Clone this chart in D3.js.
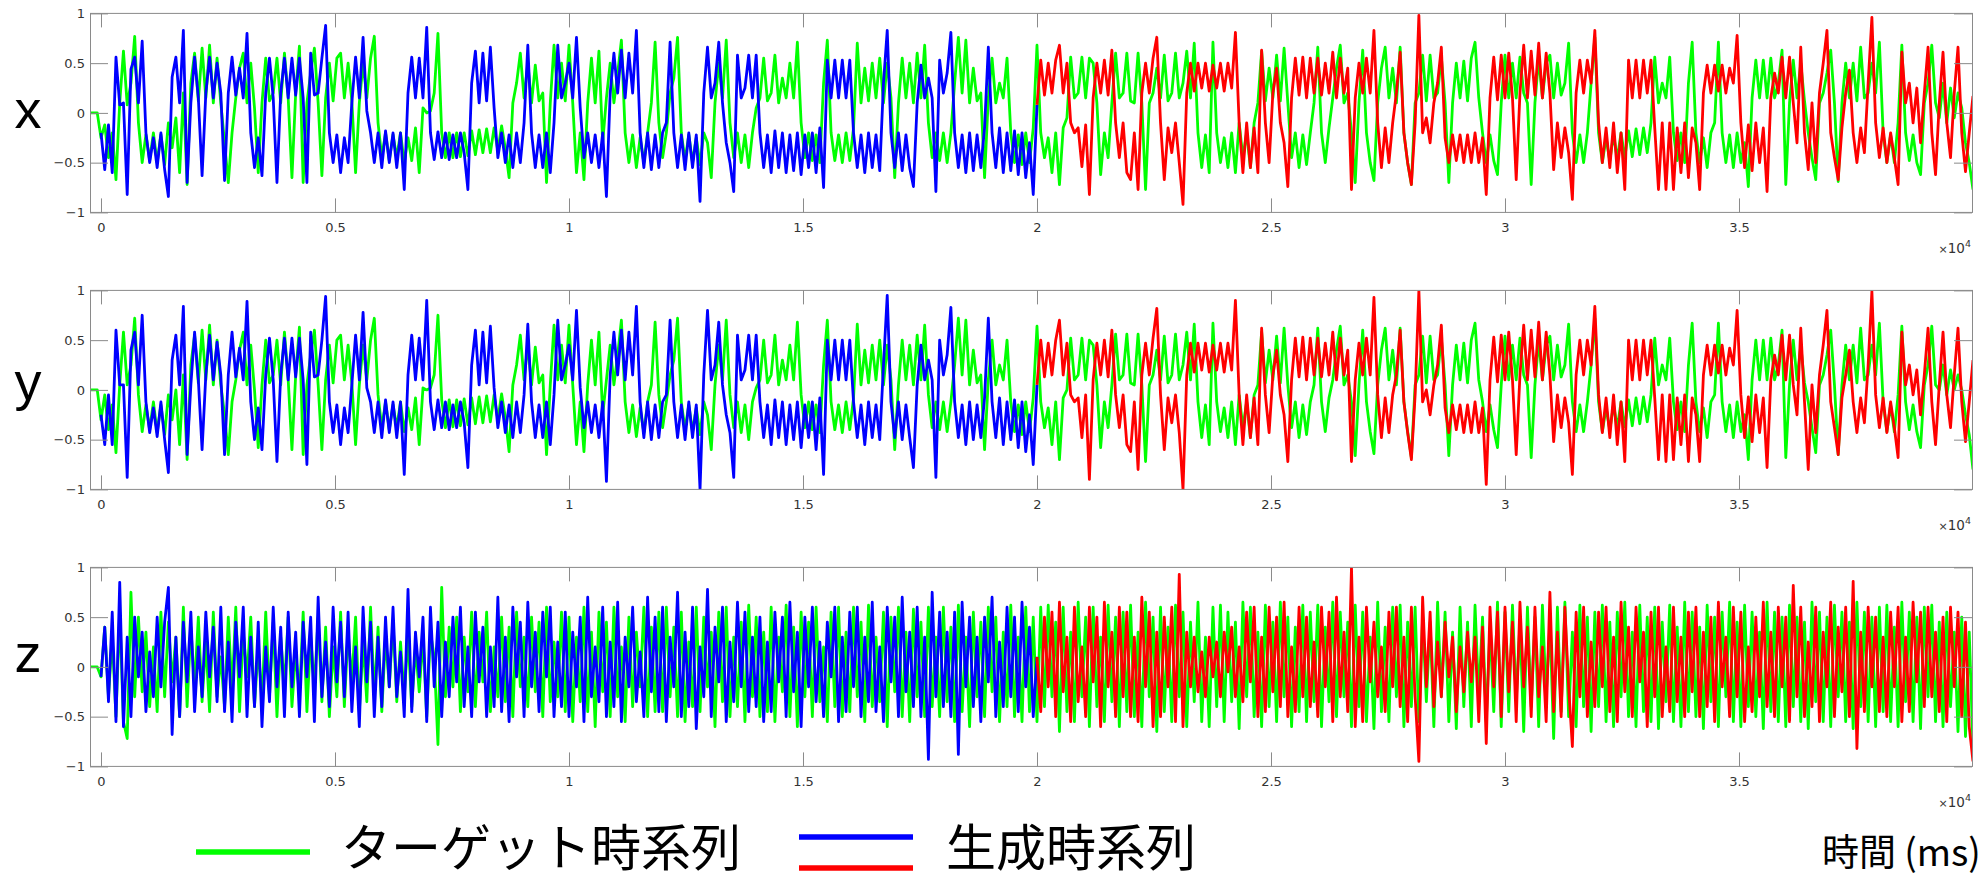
<!DOCTYPE html>
<html><head><meta charset="utf-8">
<script src="https://cdn.jsdelivr.net/npm/d3@7"></script>
<style>html,body{margin:0;padding:0;background:#fff}svg{display:block}</style>
</head><body>
<svg id="chart" width="1984" height="879"></svg>
<script>
// ---------- data ----------
const stepMs = 80;            // sample spacing of every series
const targetStart = -240;     // first time of the target series (ms)
const genStart = 0;           // first time of the generated series (ms)
const switchTime = 20000;     // generated series: blue before, red after
const panelNames = ["x", "y", "z"];
const xTickValues = [0, 5000, 10000, 15000, 20000, 25000, 30000, 35000];
const xTickLabels = ["0", "0.5", "1", "1.5", "2", "2.5", "3", "3.5"];
const yTickValues = [-1, -0.5, 0, 0.5, 1];
const yTickLabels = ["\u22121", "\u22120.5", "0", "0.5", "1"];
const legendTarget = "ターゲット時系列";
const legendGen = "生成時系列";
const xAxisTitle = "時間 (ms)";

const targetX = [0,0,0,
-.25,-.12,-.45,-.2,-.67,.1,.62,.08,.3,.77,-.1,-.5,-.22,-.48,-.2,-.5,-.22,-.52,-.1,-.35,-.05,-.6,.2,-.72,.3,
.6,.12,.65,.15,.68,.1,.55,.1,-.3,-.7,-.2,.15,.45,.6,.1,.5,.05,-.6,.1,.55,.12,.2,.55,.1,.6,
.15,-.65,.2,.67,-.7,.1,.4,.65,.1,-.63,.15,.5,.12,.55,.6,.15,.5,.12,-.6,.1,.5,.15,.55,.77,-.1,
-.45,-.2,-.48,-.22,-.45,-.2,-.5,-.25,-.48,-.15,-.6,.05,0,.02,.2,.8,-.2,-.45,-.2,-.45,-.2,-.44,-.2,-.43,-.18,
-.42,-.17,-.4,-.16,-.4,-.15,-.38,-.13,-.36,-.65,.1,.3,.6,.15,.5,.1,.48,.12,.2,-.7,.1,.68,.15,.5,.12,
.68,.1,-.6,-.2,-.67,.1,.55,.1,.62,-.3,.15,.5,.1,.4,.73,-.2,-.5,-.22,-.55,-.25,-.5,-.2,.1,.71,-.1,
-.45,-.2,.2,.35,.76,-.2,-.48,-.22,-.5,-.25,-.52,-.2,-.3,-.65,.1,.5,.15,.73,-.1,-.45,-.2,-.5,-.22,-.55,-.2,
.05,.15,.55,.12,.2,.58,.1,.35,.15,.5,.15,.71,-.1,-.45,-.2,-.48,-.22,-.5,.3,.73,-.2,-.48,-.22,-.5,-.2,
-.48,-.15,.7,.1,.45,.12,.5,.15,.55,.1,.5,.15,-.65,.1,.55,.15,.5,.1,.6,.15,.68,-.1,-.45,-.2,-.48,
-.2,-.5,-.2,.3,.76,.2,.73,.1,.45,.12,.2,-.65,.15,.55,.1,.3,.15,.55,-.2,-.5,-.22,-.52,-.2,-.5,-.15,
.68,-.2,-.45,-.25,-.6,-.2,-.72,-.15,-.05,.56,.15,.2,.56,.15,.55,.5,.1,-.62,-.2,-.45,.1,.6,.15,.2,.6,
.12,.1,.6,.1,-.77,.1,.2,.45,.15,.58,.12,.2,.6,.15,.3,.62,.15,.7,-.2,-.55,-.22,-.6,.71,-.2,-.5,
-.25,-.55,-.2,-.6,-.1,-.45,-.2,-.55,-.1,.1,.62,.12,.45,.15,.58,.12,.65,.1,-.45,-.2,-.55,-.22,-.52,-.2,.1,
.66,-.2,-.5,-.15,.15,.45,.68,.1,.2,-.2,-.7,.1,.63,-.2,-.5,-.68,.1,.45,.66,.15,.45,.1,.66,-.2,-.5,
-.72,.1,.2,.58,.12,.58,.15,.2,.56,.1,-.7,.1,.5,.15,.52,.12,.55,.71,.15,-.2,-.5,-.22,-.48,-.62,.1,
.58,.15,.5,.15,.56,.2,.1,-.72,.1,.55,.15,.5,.58,.15,.5,.18,.3,.7,-.2,-.5,-.22,-.5,-.2,.3,.76,
-.2,-.5,-.25,-.48,-.22,-.46,-.2,-.45,-.18,-.44,-.16,-.42,-.15,-.4,-.1,.56,.1,.3,.15,.56,-.2,-.48,-.2,-.5,.3,
.71,-.2,-.5,-.25,-.55,-.2,-.1,.71,-.2,-.5,-.22,-.55,-.2,-.5,-.3,-.74,.15,.53,.15,.53,.15,.55,.15,.3,.63,
-.72,.1,.53,.15,.5,.12,-.2,-.45,-.67,.1,.2,.4,.63,.1,-.69,.1,.5,.15,.5,.12,.66,.15,.2,.5,.2,
.71,-.2,-.5,-.22,-.5,-.1,.68,-.2,-.48,-.22,-.5,-.62,.1,.3,.68,.1,-.05,.3,-.1,.25,-.05,.2,.05,-.3,-.5,
-.77];

const targetY = [0,0,0,
-.3,-.05,-.4,-.15,-.63,.05,.58,.05,.25,.72,-.05,-.42,-.15,-.4,-.12,-.43,-.15,-.45,-.05,-.3,0,-.55,.15,-.7,.25,
.55,.07,.6,.1,.65,.05,.5,.05,-.25,-.65,-.12,.1,.4,.58,.05,.45,0,-.58,.05,.5,.07,.15,.5,.05,.58,
.1,-.6,.15,.63,-.65,.05,.35,.6,.05,-.6,.1,.45,.07,.5,.55,.1,.45,.07,-.55,.05,.45,.1,.5,.72,-.05,
-.38,-.12,-.4,-.15,-.38,-.12,-.42,-.18,-.4,-.08,-.55,.02,0,.02,.15,.75,-.1,-.38,-.1,-.37,-.1,-.36,-.09,-.35,-.08,
-.34,-.07,-.33,-.06,-.32,-.05,-.3,-.04,-.28,-.62,.05,.25,.55,.1,.45,.05,.43,.07,.15,-.65,.05,.65,.1,.45,.07,
.65,.05,-.55,-.12,-.62,.05,.5,.05,.58,-.25,.1,.45,.05,.35,.7,-.12,-.43,-.15,-.47,-.18,-.43,-.12,.05,.68,-.05,
-.38,-.12,.15,.3,.72,-.12,-.4,-.15,-.42,-.18,-.45,-.12,-.25,-.6,.05,.45,.1,.7,-.05,-.38,-.12,-.43,-.15,-.5,-.12,
.02,.1,.5,.07,.15,.55,.05,.3,.1,.45,.1,.68,-.05,-.38,-.12,-.4,-.15,-.43,.25,.7,-.12,-.4,-.15,-.43,-.12,
-.4,-.08,.66,.05,.4,.07,.45,.1,.5,.05,.45,.1,-.6,.05,.5,.1,.45,.05,.55,.1,.65,-.05,-.38,-.12,-.4,
-.12,-.42,-.12,.25,.72,.15,.7,.05,.4,.07,.15,-.6,.1,.5,.05,.25,.1,.5,-.12,-.42,-.15,-.45,-.12,-.42,-.08,
.64,-.12,-.38,-.18,-.55,-.12,-.7,-.08,0,.52,.1,.15,.52,.1,.5,.45,.05,-.58,-.12,-.38,.05,.56,.1,.15,.56,
.07,.05,.56,.05,-.72,.05,.15,.4,.1,.54,.07,.15,.56,.1,.25,.58,.1,.66,-.12,-.48,-.15,-.55,.67,-.12,-.42,
-.18,-.48,-.12,-.55,-.05,-.38,-.12,-.48,-.05,.05,.58,.07,.4,.1,.54,.07,.62,.05,-.38,-.12,-.48,-.15,-.45,-.12,.05,
.62,-.12,-.42,-.08,.1,.4,.64,.05,.15,-.12,-.66,.05,.6,-.12,-.42,-.64,.05,.4,.62,.1,.4,.05,.62,-.12,-.42,
-.68,.05,.15,.54,.07,.54,.1,.15,.52,.05,-.66,.05,.45,.1,.47,.07,.5,.67,.1,-.12,-.42,-.15,-.4,-.58,.05,
.54,.1,.45,.1,.52,.15,.05,-.68,.05,.5,.1,.45,.54,.1,.45,.13,.25,.66,-.12,-.42,-.15,-.42,-.12,.25,.72,
-.12,-.42,-.18,-.4,-.15,-.38,-.12,-.37,-.1,-.36,-.08,-.34,-.07,-.32,-.05,.52,.05,.25,.1,.52,-.12,-.4,-.12,-.42,.25,
.67,-.12,-.42,-.18,-.48,-.12,-.05,.67,-.12,-.42,-.15,-.48,-.12,-.42,-.25,-.7,.1,.5,.1,.5,.1,.52,.1,.25,.6,
-.68,.05,.5,.1,.45,.07,-.12,-.38,-.63,.05,.15,.35,.6,.05,-.65,.05,.45,.1,.45,.07,.62,.1,.15,.45,.15,
.67,-.12,-.42,-.15,-.42,-.05,.64,-.12,-.4,-.15,-.42,-.58,.05,.25,.64,.05,0,.25,-.05,.2,0,.15,0,-.25,-.45,
-.8];

const targetZ = [0,0,0,
-.1,.4,-.3,.3,-.5,.55,-.55,-.72,.75,-.3,.5,-.25,.35,-.4,.2,-.45,.55,-.3,.45,-.15,.3,-.5,.6,-.4,.4,
-.2,.5,-.35,.25,-.45,.55,-.3,.1,-.4,.5,-.25,.6,-.45,.35,-.1,.5,-.4,.2,-.35,.55,-.3,.45,-.5,.3,-.2,
.5,-.4,.15,-.3,.55,-.45,.3,-.2,.5,-.35,.4,-.5,.2,-.3,.55,-.4,.35,-.15,.5,-.45,.25,-.35,.6,-.3,.4,
-.45,.3,-.2,.45,-.35,.25,-.3,.3,-.4,.2,-.25,.3,-.5,.35,.1,-.78,.8,-.3,.4,-.2,.5,-.45,.3,-.25,.55,
-.4,.35,-.15,.55,-.45,.2,-.3,.5,-.35,.4,-.5,.55,-.2,.3,-.4,.5,-.25,.45,-.5,.6,-.35,.25,-.3,.55,-.45,
.5,-.55,.3,-.35,.6,-.45,.35,-.6,.55,-.25,.45,-.5,.6,-.3,.2,-.55,.5,-.4,.35,-.2,.6,-.5,.4,-.45,.55,
-.45,.6,-.3,.4,-.5,.55,-.55,.25,-.4,.6,-.45,.5,-.2,.35,-.6,.55,-.35,.6,-.5,.3,-.4,.45,-.55,.62,-.3,
.5,-.5,.35,-.45,.6,-.55,.3,-.25,.62,-.5,.4,-.6,.55,-.3,.45,-.5,.6,-.35,.2,-.55,.55,-.4,.6,-.5,.35,
-.45,.6,-.3,.45,-.55,.62,-.4,.3,-.35,.55,-.6,.5,-.25,.6,-.5,.35,-.55,.58,-.3,.45,-.5,.6,-.4,.3,-.5,
.6,-.35,.4,-.55,.62,-.45,.3,-.6,.55,-.3,.45,-.5,.6,-.25,.5,-.55,.35,-.4,.62,-.5,.3,-.55,.6,-.45,.5,
-.55,.6,-.4,.62,-.3,.45,-.65,.6,-.45,.35,-.55,.65,-.3,.5,-.6,.6,-.4,.3,-.55,.62,-.35,.5,-.6,.55,-.45,
.62,-.5,.35,-.6,.65,-.3,.5,-.65,.6,-.45,.4,-.55,.62,-.3,.55,-.6,.45,-.35,.65,-.55,.3,-.6,.6,-.4,.62,
-.55,.55,-.35,.45,-.62,.65,-.3,.6,-.5,.35,-.6,.62,-.4,.45,-.55,.65,-.3,.5,-.6,.4,-.45,.62,-.55,.55,-.35,
.62,-.6,.4,-.35,.65,-.5,.55,-.3,.45,-.6,.62,-.4,.55,-.55,.3,-.62,.65,-.45,.4,-.55,.6,-.3,.62,-.6,.45,
-.4,.6,-.55,.5,-.35,.45,-.6,.65,-.3,.55,-.55,.35,-.62,.6,-.4,.45,-.6,.62,-.3,.5,-.55,.4,-.45,.65,-.6,
.55,-.45,.62,-.35,.45,-.65,.6,-.4,.5,-.6,.62,-.3,.45,-.72,.6,-.45,.65,-.5,.35,-.6,.62,-.4,.5,-.65,.55,
-.4,.62,-.55,.45,-.6,.55,-.3,.65,-.5,.35,-.6,.62,-.45,.5,-.55,.6,-.62,.45,-.35,.62,-.55,.4,-.6,.65,-.45,
.55,-.5,.4,-.62,.62,-.35,.5,-.6,.55,-.3,.65,-.55,.45,-.6,.62,-.4,.55,-.5,.35,-.62,.65,-.45,.55,-.55,.5,
-.6,.62,-.4,.5,-.55,.45,-.62,.65,-.35,.55,-.55,.5,-.6,.62,-.3,.55,-.55,.45,-.62,.65,-.4,.55,-.55,.5,-.6,
.6,-.45,.62,-.55,.4,-.6,.65,-.35,.55,-.55,.5,-.62,.6,-.3,.62,-.55,.45,-.6,.55,-.4,.35,-.65,.5,-.7,.35,
-.8];

const genX = [
-.2,-.57,-.12,-.6,.56,.08,.1,-.82,.44,.56,.1,.72,-.2,-.5,-.25,-.55,-.2,-.57,-.84,.36,.56,.1,.83,-.7,.1,
.56,.15,-.63,.2,.56,.15,.5,.2,-.68,.2,.56,.18,.45,.15,.8,-.2,-.55,-.25,-.63,.2,.55,.15,-.7,.2,.55,
.15,.55,.18,.55,.15,-.7,.6,.18,.2,.55,.88,-.2,-.5,-.22,-.6,-.25,-.5,.1,.56,.15,.76,.02,-.2,-.5,-.2,
-.55,-.18,-.5,-.2,-.55,-.2,-.77,.2,.56,.15,.55,.15,.86,-.2,-.47,-.19,-.45,-.2,-.47,-.22,-.45,-.2,-.4,-.77,.3,
.62,.1,.6,.12,.66,.05,-.45,-.2,-.5,-.22,-.55,-.2,-.5,-.1,.68,-.2,-.55,-.22,-.55,-.2,-.6,-.1,.68,.15,.3,
.5,.15,.76,.05,-.45,-.2,-.5,-.22,-.55,-.2,-.84,.2,.6,.2,.63,.15,.6,.2,.83,-.2,-.55,-.2,-.57,-.22,-.55,
-.2,-.1,.71,-.2,-.55,-.22,-.57,-.2,-.55,-.22,-.89,.2,.66,.15,.3,.71,.1,-.3,-.5,-.79,.58,.15,.25,.58,.15,
.58,-.2,-.55,-.22,-.6,-.18,-.55,-.2,-.6,-.22,-.58,-.2,-.62,-.22,-.55,-.2,-.6,-.15,-.75,.53,.15,.53,.15,.53,.15,
.53,-.2,-.55,-.22,-.6,-.2,-.55,-.22,-.58,.3,.83,-.2,-.55,-.2,-.58,-.22,-.55,-.74,.1,.48,.15,.35,.15,-.79,.53,
.2,.4,.81,-.2,-.55,-.22,-.6,-.2,-.58,-.22,-.55,-.15,.66,-.2,-.55,-.15,-.6,-.2,-.58,-.18,-.62,-.2,-.65,-.3,-.82,
.08,.53,.18,.5,.2,.53,.68,.2,.5,-.1,-.2,-.15,-.54,-.12,-.82,.15,.5,.2,.53,.18,.63,-.1,-.45,-.1,-.6,
-.67,-.2,-.77,.2,.5,.2,.55,.76,-.1,-.67,-.15,-.4,-.1,-.5,-.92,.2,.5,.22,.5,.25,.5,.22,.48,.25,.5,
.22,.5,.25,.81,-.1,-.6,-.1,-.55,-.15,-.6,.63,-.1,-.5,.2,.45,-.1,-.3,-.74,.15,.55,.18,.56,.15,.55,.2,
.55,.18,.5,.2,.61,.15,.55,.2,.45,-.77,.15,.5,.2,.55,.2,.83,-.1,-.55,-.15,-.5,-.1,.2,.61,-.2,-.5,
-.72,-.1,.98,-.2,-.05,-.3,.1,.3,.66,-.25,-.5,-.22,-.48,-.22,-.5,-.22,-.5,-.2,-.5,-.25,-.82,.15,.56,.13,.58,
.15,.6,.15,-.67,.2,.68,.15,.62,.18,.7,.15,.6,.2,-.57,-.1,-.45,-.15,-.4,-.87,.2,.53,.2,.53,.3,.83,
-.1,-.5,-.15,-.55,-.1,-.6,-.2,-.77,.53,.15,.53,.15,.53,.2,.53,-.15,-.77,-.1,-.77,-.1,-.77,-.15,-.6,-.1,-.65,
-.15,-.3,-.77,.2,.48,.2,.48,.22,.48,.2,.45,.3,.78,-.1,-.55,-.12,-.58,-.1,-.5,-.15,-.79,.15,.4,.2,.56,
.15,.56,.1,-.3,.66,-.2,-.57,.1,-.5,.2,.5,.83,-.2,-.45,-.67,-.15,.2,.43,-.2,-.5,-.15,-.4,.3,.96,-.1,
-.45,-.15,-.5,-.2,-.45,-.72,.61,.1,.3,-.1,.25,-.3,.2,.66,-.2,-.62,.1,.61,-.1,-.45,.2,.66,-.2,-.59,-.2,
.17];

const genY = [
-.25,-.55,-.05,-.55,.6,.05,.05,-.88,.4,.58,.05,.75,-.12,-.43,-.18,-.47,-.12,-.5,-.83,.3,.55,.05,.84,-.65,.05,
.58,.1,-.6,.15,.55,.1,.48,.15,-.65,.15,.58,.13,.42,.1,.89,-.12,-.5,-.18,-.6,.15,.52,.1,-.72,.15,.52,
.1,.52,.13,.52,.1,-.75,.58,.13,.15,.5,.94,-.12,-.43,-.15,-.55,-.18,-.43,.05,.55,.1,.78,.02,-.12,-.43,-.12,
-.48,-.1,-.43,-.12,-.48,-.12,-.85,.15,.55,.1,.52,.1,.9,-.12,-.4,-.1,-.38,-.12,-.4,-.15,-.38,-.12,-.33,-.78,.25,
.6,.05,.58,.07,.64,.02,-.38,-.12,-.43,-.15,-.48,-.12,-.43,-.05,.66,-.12,-.48,-.15,-.48,-.12,-.55,-.05,.7,.1,.25,
.45,.1,.8,.02,-.38,-.12,-.43,-.15,-.48,-.12,-.92,.15,.58,.15,.6,.1,.58,.15,.84,-.12,-.48,-.12,-.5,-.15,-.48,
-.12,-.05,.7,-.12,-.48,-.15,-.5,-.12,-.48,-.15,-1.0,.15,.8,.1,.25,.68,.05,-.25,-.43,-.88,.55,.1,.2,.55,.1,
.55,-.12,-.48,-.15,-.55,-.1,-.48,-.12,-.55,-.15,-.5,-.12,-.58,-.15,-.48,-.12,-.6,-.08,-.85,.5,.1,.5,.1,.5,.1,
.5,-.12,-.48,-.15,-.55,-.12,-.48,-.15,-.5,.25,.95,-.12,-.48,-.12,-.5,-.15,-.48,-.78,.05,.45,.1,.3,.1,-.88,.5,
.15,.35,.83,-.12,-.48,-.15,-.55,-.12,-.5,-.15,-.48,-.08,.72,-.12,-.48,-.08,-.55,-.12,-.5,-.1,-.58,-.12,-.62,-.25,-.75,
.05,.5,.13,.47,.15,.5,.7,.15,.47,-.05,-.12,-.08,-.48,-.05,-.9,.1,.47,.15,.5,.13,.6,-.05,-.38,-.05,-.55,
-.62,-.12,-.8,.15,.47,.15,.52,.82,-.05,-.6,-.08,-.33,-.05,-.43,-1.0,.15,.47,.18,.47,.2,.47,.18,.45,.2,.47,
.18,.47,.2,.9,-.05,-.55,-.05,-.48,-.08,-.55,.62,-.05,-.43,.15,.4,-.05,-.25,-.72,.1,.52,.13,.53,.1,.52,.15,
.52,.13,.47,.15,.58,.1,.52,.15,.4,-.72,.1,.47,.15,.52,.15,.93,-.05,-.48,-.08,-.43,-.05,.15,.6,-.12,-.43,
-.7,-.05,1.0,-.12,0,-.25,.05,.25,.65,-.18,-.43,-.15,-.4,-.15,-.43,-.15,-.43,-.12,-.43,-.18,-.95,.1,.53,.08,.55,
.1,.58,.1,-.65,.15,.65,.1,.6,.13,.68,.1,.58,.15,-.52,-.05,-.38,-.08,-.33,-.85,.15,.5,.15,.5,.25,.84,
-.05,-.43,-.08,-.48,-.05,-.55,-.12,-.72,.5,.1,.5,.1,.5,.15,.5,-.08,-.7,-.05,-.72,-.05,-.7,-.08,-.55,-.05,-.72,
-.08,-.25,-.72,.15,.45,.15,.45,.17,.45,.15,.42,.25,.8,-.05,-.48,-.07,-.52,-.05,-.43,-.08,-.78,.1,.35,.15,.55,
.1,.55,.05,-.25,.62,-.12,-.8,.05,-.43,.15,.45,.8,-.12,-.38,-.65,-.08,.15,.4,-.12,-.43,-.08,-.33,.25,.99,-.05,
-.38,-.08,-.43,-.12,-.38,-.68,.58,.05,.25,-.05,.2,-.25,.15,.62,-.12,-.55,.05,.58,-.05,-.38,.15,.62,-.12,-.52,-.12,
.3];

const genZ = [
-.1,.4,-.35,.55,-.55,.85,-.6,.3,-.5,.5,-.1,.35,-.45,.15,-.3,.5,-.2,.45,.8,-.68,.3,-.5,.45,-.15,.55,
-.45,.2,-.3,.55,-.1,.4,-.35,.6,-.45,.25,-.55,.45,-.1,.6,-.5,.3,-.4,.45,-.6,.2,-.35,.6,-.2,.4,-.5,
.55,-.2,.35,-.5,.45,-.1,.5,-.55,.7,-.3,.25,-.4,.6,-.15,.45,-.3,.55,-.45,.2,-.6,.6,-.15,.45,-.5,.3,
-.4,.5,-.2,.6,-.3,.15,-.5,.78,-.45,.35,-.1,.5,-.55,.6,-.2,.45,-.5,.25,-.3,.5,-.15,.6,-.4,.2,-.5,
.55,-.15,.4,-.5,.2,-.4,.7,-.45,.3,-.55,.6,-.1,.45,-.5,.65,-.2,.35,-.45,.55,-.1,.6,-.5,.25,-.4,.55,
-.5,.35,-.2,.5,-.55,.7,-.3,.2,-.35,.6,-.5,.25,-.4,.65,-.55,.3,-.2,.6,-.35,.15,-.5,.7,-.25,.5,-.45,
.6,-.55,.3,-.2,.75,-.5,.35,-.4,.6,-.62,.2,-.3,.78,-.5,.4,-.15,.6,-.55,.25,-.35,.65,-.2,.55,-.45,.3,
-.4,.5,-.55,.25,-.45,.55,-.15,.5,-.5,.65,-.25,.35,-.6,.5,-.2,.6,-.35,.25,-.5,.45,-.1,.6,-.55,.3,-.45,
.55,-.2,.6,-.5,.3,-.35,.65,-.45,.2,-.55,.6,-.15,.5,-.5,.7,-.25,.35,-.4,.6,-.5,.3,-.93,.75,-.3,.55,
-.4,.35,-.5,.55,-.88,.65,-.2,.5,-.4,.3,-.55,.5,-.15,.7,-.5,.25,-.4,.6,-.3,.5,-.45,.65,-.2,.4,-.5,
.1,-.45,.5,-.2,.55,-.5,.65,-.25,.3,-.55,.6,-.35,.2,-.5,.6,-.15,.5,-.6,.65,-.2,.35,-.5,.6,-.3,.55,
-.5,.3,-.55,.7,-.2,.55,-.6,.35,-.5,.5,-.2,.6,-.55,.93,-.6,.35,-.2,.3,-.25,.15,-.3,.3,-.1,.25,-.3,
.35,-.05,.4,-.3,.2,-.35,.55,-.15,.6,-.5,.3,-.45,.6,-.25,.5,-.4,.65,-.5,.2,-.45,.6,-.3,.5,-.4,.25,
-.5,.6,-.2,.55,-.55,.7,-.3,.35,-.45,1.0,-.6,.3,-.55,.6,-.15,.45,-.3,.2,-.45,.55,-.2,.6,-.4,.3,-.55,
.6,-.3,-.95,.7,-.2,.55,-.4,.25,-.3,.45,-.1,.3,-.45,.2,-.25,.35,-.15,.3,-.55,.4,-.77,.6,-.2,.55,-.5,
.6,-.25,.45,-.55,.65,-.2,.4,-.5,.6,-.3,.2,-.55,.75,-.45,.35,-.5,.6,-.2,-.8,.55,-.3,.6,-.5,.25,-.4,
.55,-.2,.6,-.45,.3,-.55,.65,-.25,.4,-.5,.6,-.15,.35,-.6,.55,-.3,.6,-.5,.2,-.45,.6,-.35,.3,-.5,.55,
-.25,.6,-.5,.35,-.4,.5,-.55,.65,-.2,.3,-.5,.6,-.3,.55,-.55,.2,-.45,.5,-.3,.65,-.4,.35,-.5,.6,-.2,
.5,-.55,.82,-.3,.6,-.5,.25,-.4,.6,-.55,.35,-.2,.65,-.5,.4,-.25,.6,-.5,.86,-.82,.35,-.45,.6,-.2,.5,
-.45,.3,-.5,.55,-.2,.6,-.55,.3,-.45,.65,-.15,.55,-.4,.6,-.3,.35,-.45,.5,-.55,.6,-.2,.55,-.5,.45,-.6,
-.95];

// ---------- layout ----------
const svg = d3.select("#chart");
const left = 90, right = 1972, panelH = 199;
const panelTops = [13.4, 290.4, 567.4];
const labelBaselines = [128, 400, 672];
const colTarget = "#00ff00", colBlue = "#0000ff", colRed = "#ff0000";
const axisCol = "#8a8a8a", textCol = "#333333";
const lineW = 2.8;

const x = d3.scaleLinear().domain([-235, 39979]).range([left, right]);

const targets = [targetX, targetY, targetZ];
const gens = [genX, genY, genZ];

function toPts(arr, t0) { return arr.map((v, i) => ({ t: t0 + i * stepMs, v })); }

panelNames.forEach((name, p) => {
  const top = panelTops[p], bottom = top + panelH;
  const y = d3.scaleLinear().domain([-1, 1]).range([bottom, top]);
  const g = svg.append("g");

  const clipId = "clip" + p;
  svg.append("clipPath").attr("id", clipId)
    .append("rect").attr("x", left).attr("y", top).attr("width", right - left).attr("height", panelH);

  const line = d3.line().x(d => x(d.t)).y(d => y(d.v));
  const plot = g.append("g").attr("clip-path", `url(#${clipId})`);

  const tp = toPts(targets[p], targetStart);
  plot.append("path").datum(tp).attr("d", line)
    .attr("fill", "none").attr("stroke", colTarget).attr("stroke-width", lineW).attr("stroke-linejoin", "round");

  const gp = toPts(gens[p], genStart);
  const blue = gp.filter(d => d.t <= switchTime);
  const red = gp.filter(d => d.t >= switchTime);
  plot.append("path").datum(blue).attr("d", line)
    .attr("fill", "none").attr("stroke", colBlue).attr("stroke-width", lineW).attr("stroke-linejoin", "round");
  plot.append("path").datum(red).attr("d", line)
    .attr("fill", "none").attr("stroke", colRed).attr("stroke-width", lineW).attr("stroke-linejoin", "round");

  const styleAxis = sel => {
    sel.select(".domain").remove();
    sel.selectAll(".tick line").attr("stroke", axisCol).attr("stroke-width", 1);
    sel.selectAll(".tick text").attr("fill", textCol).attr("font-family", "DejaVu Sans, sans-serif").attr("font-size", 13);
  };
  g.append("g").attr("transform", `translate(0,${bottom})`)
    .call(d3.axisBottom(x).tickValues(xTickValues).tickFormat((d, i) => xTickLabels[i]).tickSize(-14).tickSizeOuter(0).tickPadding(10))
    .call(styleAxis);
  g.append("g").attr("transform", `translate(0,${top})`)
    .call(d3.axisTop(x).tickValues(xTickValues).tickFormat("").tickSize(-14).tickSizeOuter(0))
    .call(styleAxis);
  g.append("g").attr("transform", `translate(${left},0)`)
    .call(d3.axisLeft(y).tickValues(yTickValues).tickFormat((d, i) => yTickLabels[i]).tickSize(-18).tickSizeOuter(0).tickPadding(5))
    .call(styleAxis);
  g.append("g").attr("transform", `translate(${right},0)`)
    .call(d3.axisRight(y).tickValues(yTickValues).tickFormat("").tickSize(-18).tickSizeOuter(0))
    .call(styleAxis);

  g.append("rect").attr("x", left + 0.5).attr("y", top).attr("width", right - left).attr("height", panelH)
    .attr("fill", "none").attr("stroke", axisCol).attr("stroke-width", 1);

  const ex = g.append("text").attr("x", right - 1).attr("y", bottom + 41).attr("text-anchor", "end")
    .attr("fill", textCol).attr("font-family", "DejaVu Sans, sans-serif");
  ex.append("tspan").attr("font-size", 11).text("\u00d7");
  ex.append("tspan").attr("font-size", 13.5).text("10");
  ex.append("tspan").attr("font-size", 9.5).attr("dy", -6).text("4");

  g.append("text").attr("x", 28).attr("y", labelBaselines[p]).attr("text-anchor", "middle")
    .attr("font-family", "Liberation Sans, Arial, sans-serif").attr("font-size", 54).attr("fill", "#000").text(name);
});

// ---------- legend ----------
const lg = svg.append("g");
lg.append("line").attr("x1", 196).attr("x2", 310).attr("y1", 852).attr("y2", 852)
  .attr("stroke", colTarget).attr("stroke-width", 5.5);
lg.append("text").attr("x", 341).attr("y", 866).attr("font-family", "Noto Sans CJK JP, sans-serif")
  .attr("font-size", 50).attr("fill", "#000").text(legendTarget);
lg.append("line").attr("x1", 799).attr("x2", 913).attr("y1", 837).attr("y2", 837)
  .attr("stroke", colBlue).attr("stroke-width", 5.5);
lg.append("line").attr("x1", 799).attr("x2", 913).attr("y1", 868).attr("y2", 868)
  .attr("stroke", colRed).attr("stroke-width", 5.5);
lg.append("text").attr("x", 946).attr("y", 866).attr("font-family", "Noto Sans CJK JP, sans-serif")
  .attr("font-size", 50).attr("fill", "#000").text(legendGen);
svg.append("text").attr("x", 1822).attr("y", 866).attr("font-family", "Noto Sans CJK JP, sans-serif")
  .attr("font-size", 37).attr("fill", "#000").text(xAxisTitle);
</script>
</body></html>
